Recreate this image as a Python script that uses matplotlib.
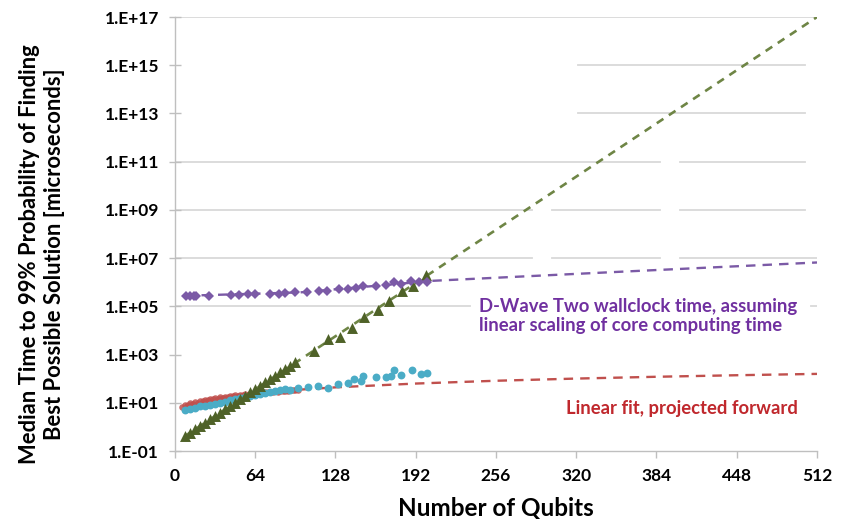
import numpy as np
import matplotlib
matplotlib.use("Agg")
import matplotlib.pyplot as plt
from matplotlib.ticker import FixedLocator, FuncFormatter, NullLocator

plt.rcParams['font.family'] = ['Lato', 'DejaVu Sans']
plt.rcParams['font.weight'] = 'bold'

# simulated annealing / classical solver (green triangles), log-linear growth
green_q = [8, 12, 16, 20, 24, 28, 32, 36, 40, 44, 48, 52, 56, 60, 64, 68, 72,
           76, 80, 84, 88, 92, 96, 111, 122, 132, 141, 151, 162, 171, 181, 190, 200]
green_t = [0.42, 0.58, 0.8, 1.1, 1.5, 2.1, 2.9, 3.9, 5.4, 7.4, 10.2, 14, 19.5,
           27, 37, 51, 70, 97, 134, 185, 252, 350, 480, 1400, 4400, 5500, 12600,
           37000, 71000, 170000, 450000, 700000, 2.0e6]
green_fit_q = [8, 512]
green_fit_t = [0.42, 1.0e17]

# D-Wave Two wallclock (purple diamonds)
purple_q = [9, 12, 15, 17, 27, 45, 51, 58, 64, 76, 83, 88, 96, 105, 115, 121,
            131, 138, 144, 150, 160, 168, 175, 180, 188, 195, 201]
purple_t = [2.75e5, 2.8e5, 2.7e5, 2.75e5, 2.8e5, 2.9e5, 3.0e5, 3.2e5, 3.2e5,
            3.3e5, 3.4e5, 3.5e5, 3.8e5, 3.8e5, 4.5e5, 4.2e5, 5.2e5, 5.0e5,
            6.0e5, 6.8e5, 7.1e5, 7.4e5, 9.8e5, 8.5e5, 1.15e6, 9.8e5, 1.07e6]
purple_fit_q = [8, 100, 160, 206, 360, 512]
purple_fit_t = [2.75e5, 3.8e5, 7.1e5, 1.15e6, 2.8e6, 6.6e6]

# D-Wave Two core computing time (blue circles)
blue_q = [8, 12, 16, 20, 24, 28, 32, 36, 40, 44, 48, 52, 56, 60, 64, 68, 72, 76,
          80, 84, 88, 92, 98, 106, 114, 122, 130, 138, 143, 148, 150, 160, 168,
          172, 175, 180, 189, 196, 201]
blue_t = [4.9, 5.6, 6.3, 7.1, 7.6, 8.3, 9.1, 10, 11.2, 12.6, 14, 16.2, 17.8, 19,
          21.4, 23, 25, 28, 31, 33, 36, 35, 43, 46, 50, 43, 63, 69, 95, 79, 132,
          117, 112, 132, 224, 141, 224, 162, 178]

# core computing time of the smaller instances (red dots) and its linear fit
red_q = [6, 8, 10, 12, 14, 16, 18, 20, 22, 24, 26, 28, 30, 32, 34, 36, 38, 40,
         42, 44, 46, 48, 50, 52, 54, 56, 58, 60, 62, 64, 66, 68, 70, 72, 74, 76,
         78, 80, 82, 84, 86, 88, 90, 92, 94, 96, 98]
red_t = [7.0, 8.4, 8.1, 9.6, 9.3, 10.9, 10.2, 11.9, 11.4, 13.2, 12.6, 14.5, 13.8,
         15.6, 14.9, 16.9, 16.0, 17.9, 17.2, 19.0, 18.5, 20.4, 19.6, 21.6, 20.8,
         22.8, 22.0, 23.9, 23.1, 25.2, 24.4, 26.3, 25.6, 27.6, 26.9, 28.8, 27.9,
         30.1, 29.0, 30.8, 30.2, 31.9, 31.0, 33.2, 32.4, 34.5, 35.0]
red_fit_q = [8, 16, 24, 32, 40, 52, 64, 96, 128, 192, 256, 320, 384, 448, 512]
red_fit_t = [8.0, 10.4, 12.8, 15.1, 17.5, 21.1, 24.7, 34.2, 43.7, 62.8, 82.0,
             101, 120, 139, 158]

x_ticks = [0, 64, 128, 192, 256, 320, 384, 448, 512]
y_exps = [-1, 1, 3, 5, 7, 9, 11, 13, 15, 17]

fig = plt.figure(figsize=(8.44, 5.19), dpi=100)
ax = fig.add_axes([0.2073, 0.131, 0.7607, 0.8362])
ax.set_yscale('log')
ax.set_xlim(0, 512)
ax.set_ylim(1e-1, 1e17)

# gridlines, partly hidden in the original picture
grid_c = '#D9D9D9'
grid_segments = {
    17: [(0, 1)],
    15: [(0.628, 0.981)],
    13: [(0.628, 0.981)],
    11: [(0, 0.755), (0.787, 0.981)],
    9: [(0, 0.556), (0.587, 0.755), (0.787, 0.981)],
    7: [(0, 0.556), (0.587, 0.755), (0.787, 1.0)],
    5: [(0, 0.46), (0.99, 1.0)],
}
for e, segs in grid_segments.items():
    for a, b in segs:
        ax.axhline(10.0 ** e, a, b, color=grid_c, lw=1.3, zorder=0.5)

ax.scatter(red_q, red_t, s=22, color='#C0504D', alpha=0.85, lw=0, zorder=2)
ax.plot(red_fit_q, red_fit_t, color='#C0504D', lw=1.7, dashes=(4, 3), zorder=3)
ax.scatter(blue_q, blue_t, s=32, color='#4BACC6', lw=0, zorder=4)
ax.plot(green_fit_q, green_fit_t, color='#6E8545', lw=1.9, dashes=(3, 2.5), zorder=5)
ax.scatter(green_q, green_t, s=62, marker='^', color='#4F6228', lw=0, zorder=6)
ax.plot(purple_fit_q, purple_fit_t, color='#7B5AA6', lw=1.7, dashes=(4, 3), zorder=7)
ax.plot(purple_q, purple_t, ls='none', marker='D', ms=5.2, color='#7B5AA6',
        mew=0, zorder=8)

ax.text(0.473, 0.311, 'D-Wave Two wallclock time, assuming\nlinear scaling of core computing time',
        transform=ax.transAxes, ha='left', va='center', color='#7030A0',
        fontsize=13.3, fontweight='bold', linespacing=1.2)
ax.text(0.970, 0.097, 'Linear fit, projected forward', transform=ax.transAxes,
        ha='right', va='center', color='#C0282D', fontsize=13.3, fontweight='bold')

ax.xaxis.set_major_locator(FixedLocator(x_ticks))
ax.yaxis.set_major_locator(FixedLocator([10.0 ** e for e in y_exps]))
ax.yaxis.set_minor_locator(NullLocator())
ax.yaxis.set_major_formatter(FuncFormatter(
    lambda v, p: '1.E%+03d' % int(round(np.log10(v)))))

for side in ['top', 'right']:
    ax.spines[side].set_visible(False)
for side in ['left', 'bottom']:
    ax.spines[side].set_color('#BFBFBF')
    ax.spines[side].set_linewidth(1.0)
ax.tick_params(axis='y', direction='inout', length=9, width=1, color='#BFBFBF',
               labelsize=12.5, pad=7)
ax.tick_params(axis='x', direction='out', length=5, width=1, color='#BFBFBF',
               labelsize=12.5, pad=7)
for lab in ax.get_xticklabels() + ax.get_yticklabels():
    lab.set_fontweight('bold')

ax.set_xlabel('Number of Qubits', fontsize=17.5, fontweight='bold', va='center')
ax.xaxis.set_label_coords(0.5, -0.131)
ax.set_ylabel('Median Time to 99% Probability of Finding\nBest Possible Solution [microseconds]',
              fontsize=15.8, fontweight='bold', linespacing=1.2)
ax.yaxis.set_label_coords(-0.172, 0.454)

fig.savefig('out.png', dpi=100)
